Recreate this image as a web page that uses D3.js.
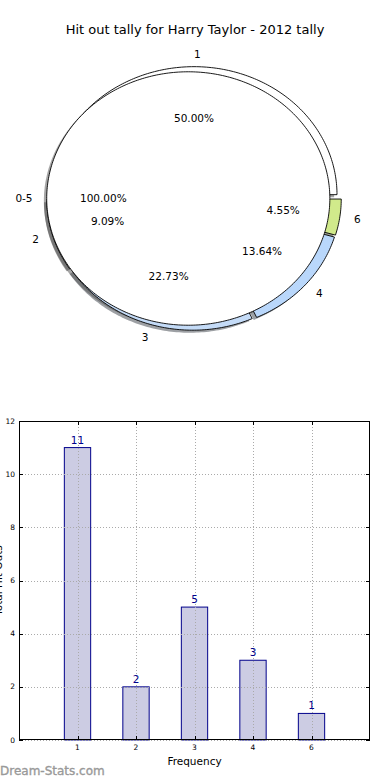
<!DOCTYPE html>
<html><head><meta charset="utf-8">
<script src="https://cdn.jsdelivr.net/npm/d3@7"></script>
<style>body{margin:0;background:#fff;} svg{display:block;font-family:"DejaVu Sans",sans-serif;}</style>
</head><body><svg id="c" width="390" height="780"></svg>
<script>
const title = "Hit out tally for Harry Taylor - 2012 tally";
const pieLabels = ["1","2","3","4","6"];
const pieValues = [11,2,5,3,1];
const pieColors = ["#ffffff","#e4e4e4","#c4dbf7","#b9d7fb","#d1ea8b"];
const innerLabels = ["0-5"];
const innerValues = [22];
const innerColors = ["#ffffff"];
const barCategories = ["1","2","3","4","6"];
const barValues = [11,2,5,3,1];
const yTicks = [0,2,4,6,8,10,12];
const xLabel = "Frequency";
const yLabel = "Total Hit Outs";
const watermark = "Dream-Stats.com";

const svg = d3.select("#c");

// ---------- title ----------
svg.append("text").attr("x",195).attr("y",34).attr("text-anchor","middle")
  .attr("font-size",13).attr("fill","#000").text(title);

// ---------- pie ----------
const cx = 194, cy = 198.5, rxp = 143, ryp = 128;
const xS = d3.scaleLinear().domain([-1,1]).range([cx-rxp, cx+rxp]);
const yS = d3.scaleLinear().domain([-1,1]).range([cy+ryp, cy-ryp]);
const line = d3.line().x(d=>xS(d[0])).y(d=>yS(d[1]));

function wedgePath(a0, a1, r, ox, oy){
  const full = (a1 - a0) >= 2*Math.PI - 1e-6;
  const pts = full ? [] : [[ox,oy]];
  const n = Math.max(8, Math.ceil((a1-a0)/(Math.PI/180)));
  for(let i=0;i<=n;i++){
    const t = a0 + (a1-a0)*i/n;
    pts.push([ox + r*Math.cos(t), oy + r*Math.sin(t)]);
  }
  return line(pts) + "Z";
}
const pieGen = d3.pie().sort(null).startAngle(0).endAngle(2*Math.PI);

function pieData(vals, labels, colors, r, explode){
  const total = d3.sum(vals);
  return pieGen(vals).map((a,i)=>{
    const mid = (a.startAngle + a.endAngle)/2;
    const ox = explode*Math.cos(mid), oy = explode*Math.sin(mid);
    return {a, mid, ox, oy, r, label: labels[i], color: colors[i], pct: (100*vals[i]/total).toFixed(2)+"%"};
  });
}
const outer = pieData(pieValues, pieLabels, pieColors, 1.0, 0.03);
const inner = pieData(innerValues, innerLabels, innerColors, 0.99, 0.04);
const all = outer.concat(inner);

function darker(c){ const k = d3.rgb(c); return d3.rgb(k.r*0.3, k.g*0.3, k.b*0.3).toString(); }

// shadows (below all wedges)
const pg = svg.append("g");
pg.selectAll("path.sh").data(all).enter().append("path")
  .attr("d", d=>wedgePath(d.a.startAngle, d.a.endAngle, d.r, d.ox-0.02, d.oy-0.02))
  .attr("fill", d=>darker(d.color)).attr("opacity",0.5).attr("stroke","none");
// wedges
pg.selectAll("path.w").data(all).enter().append("path")
  .attr("d", d=>wedgePath(d.a.startAngle, d.a.endAngle, d.r, d.ox, d.oy))
  .attr("fill", d=>d.color).attr("stroke","#000").attr("stroke-width",0.9)
  .attr("stroke-linejoin","round");

// labels
pg.selectAll("text.lab").data(all).enter().append("text")
  .attr("x", d=>xS(d.ox + 1.1*d.r*Math.cos(d.mid)))
  .attr("y", d=>yS(d.oy + 1.1*d.r*Math.sin(d.mid)))
  .attr("dy","0.35em")
  .attr("text-anchor", d=>Math.cos(d.mid) >= 0 ? "start" : "end")
  .attr("font-size",10.5).attr("fill","#000").text(d=>d.label);
pg.selectAll("text.pct").data(all).enter().append("text")
  .attr("x", d=>xS(d.ox + 0.6*d.r*Math.cos(d.mid)))
  .attr("y", d=>yS(d.oy + 0.6*d.r*Math.sin(d.mid)))
  .attr("dy","0.35em").attr("text-anchor","middle")
  .attr("font-size",10.5).attr("fill","#000").text(d=>d.pct);

// ---------- bar chart ----------
const L = 19, R = 370, T = 421, B = 740;
const x = d3.scaleLinear().domain([-1, barCategories.length]).range([L, R]);
const y = d3.scaleLinear().domain([0, 12]).range([B, T]);
const bw = 0.45;
const bg = svg.append("g");

bg.selectAll("rect.bar").data(barValues).enter().append("rect")
  .attr("x", (d,i)=>x(i-bw/2)).attr("width", x(bw)-x(0))
  .attr("y", d=>y(d)).attr("height", d=>y(0)-y(d))
  .attr("fill","#cccce3").attr("stroke","#00008b").attr("stroke-width",1);

// grid
bg.selectAll("line.gx").data(barCategories).enter().append("line")
  .attr("x1",(d,i)=>Math.round(x(i))+0.5).attr("x2",(d,i)=>Math.round(x(i))+0.5)
  .attr("y1",T).attr("y2",B)
  .attr("stroke","#aaaaaa").attr("stroke-width",1).attr("stroke-dasharray","1,2");
bg.selectAll("line.gy").data(yTicks).enter().append("line")
  .attr("x1",L).attr("x2",R)
  .attr("y1",d=>Math.round(y(d))+0.5).attr("y2",d=>Math.round(y(d))+0.5)
  .attr("stroke","#aaaaaa").attr("stroke-width",1).attr("stroke-dasharray","1,2");

// value labels
bg.selectAll("text.val").data(barValues).enter().append("text")
  .attr("x",(d,i)=>x(i)).attr("y", d=>y(d)-4)
  .attr("text-anchor","middle").attr("font-size",10.5).attr("fill","#00008b").text(d=>d);

// frame
bg.append("rect").attr("x",L+0.5).attr("y",T+0.5).attr("width",R-L-1).attr("height",B-T-1)
  .attr("fill","none").attr("stroke","#000").attr("stroke-width",1);

// ticks (inward, all sides)
bg.selectAll("line.tyl").data(yTicks).enter().append("line")
  .attr("x1",L).attr("x2",L+4).attr("y1",d=>Math.round(y(d))+0.5).attr("y2",d=>Math.round(y(d))+0.5).attr("stroke","#000");
bg.selectAll("line.tyr").data(yTicks).enter().append("line")
  .attr("x1",R-4).attr("x2",R).attr("y1",d=>Math.round(y(d))+0.5).attr("y2",d=>Math.round(y(d))+0.5).attr("stroke","#000");
bg.selectAll("line.txb").data(barCategories).enter().append("line")
  .attr("x1",(d,i)=>Math.round(x(i))+0.5).attr("x2",(d,i)=>Math.round(x(i))+0.5).attr("y1",B-4).attr("y2",B).attr("stroke","#000");
bg.selectAll("line.txt").data(barCategories).enter().append("line")
  .attr("x1",(d,i)=>Math.round(x(i))+0.5).attr("x2",(d,i)=>Math.round(x(i))+0.5).attr("y1",T).attr("y2",T+4).attr("stroke","#000");

// tick labels
bg.selectAll("text.yt").data(yTicks).enter().append("text")
  .attr("x",L-4).attr("y",d=>y(d)).attr("dy","0.35em").attr("text-anchor","end")
  .attr("font-size",7.5).attr("fill","#000").text(d=>d);
bg.selectAll("text.xt").data(barCategories).enter().append("text")
  .attr("x",(d,i)=>x(i)).attr("y",B+7).attr("dy","0.35em").attr("text-anchor","middle")
  .attr("font-size",7.5).attr("fill","#000").text(d=>d);

// axis labels
bg.append("text").attr("x",(L+R)/2).attr("y",765).attr("text-anchor","middle")
  .attr("font-size",10.5).attr("fill","#000").text(xLabel);
bg.append("text").attr("transform",`translate(2,${(T+B)/2}) rotate(-90)`)
  .attr("text-anchor","middle").attr("font-size",10.5).attr("fill","#000").text(yLabel);

// watermark
svg.append("text").attr("x",0).attr("y",775).attr("font-size",12).attr("fill","#999")
  .attr("stroke","#999").attr("stroke-width",0.35).text(watermark);
</script></body></html>
